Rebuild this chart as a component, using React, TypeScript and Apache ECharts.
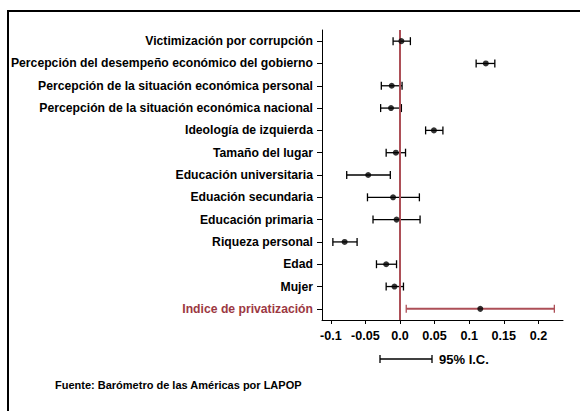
import React, { useEffect, useRef } from "react";
import * as echarts from "echarts";

const categories = [
  "Victimización por corrupción",
  "Percepción del desempeño económico del gobierno",
  "Percepción de la situación económica personal",
  "Percepción de la situación económica nacional",
  "Ideología de izquierda",
  "Tamaño del lugar",
  "Educación universitaria",
  "Eduación secundaria",
  "Educación primaria",
  "Riqueza personal",
  "Edad",
  "Mujer",
  "Indice de privatización",
];
const coef = [0.002, 0.124, -0.012, -0.013, 0.049, -0.006, -0.046, -0.010, -0.005, -0.080, -0.020, -0.008, 0.116];
const lower = [-0.010, 0.110, -0.027, -0.028, 0.037, -0.020, -0.077, -0.047, -0.039, -0.097, -0.034, -0.020, 0.009];
const upper = [0.015, 0.137, 0.003, 0.002, 0.062, 0.008, -0.014, 0.028, 0.029, -0.062, -0.005, 0.005, 0.223];
const xTicks = [-0.1, -0.05, 0, 0.05, 0.1, 0.15, 0.2];
const xTickLabels = ["-0.1", "-0.05", "0.0", "0.05", "0.1", "0.15", "0.2"];
const highlightIndex = 12;

const FONT = '"Liberation Sans", Arial, Helvetica, sans-serif';
const RED_LINE = "#ad4f57";
const RED_TEXT = "#9c3842";
const CAT_SIZE = 12.2;

export default function App() {
  const ref = useRef<HTMLDivElement>(null);
  useEffect(() => {
    if (!ref.current) return;
    const chart = echarts.init(ref.current, null, { renderer: "svg" });
    const errData = categories.map((_, i) => [lower[i], upper[i], i]);
    const ptData = categories.map((_, i) => [coef[i], i]);
    chart.setOption({
      animation: false,
      backgroundColor: "#fff",
      grid: { left: 322, top: 30, width: 241, height: 290 },
      xAxis: {
        type: "value",
        min: -0.1127,
        max: 0.2355,
        splitLine: { show: false },
        axisLine: { show: true, onZero: false, lineStyle: { color: "#000", width: 1 } },
        axisTick: { show: true, length: 4, lineStyle: { color: "#000" }, customValues: xTicks },
        axisLabel: {
          customValues: xTicks,
          margin: 9,
          fontFamily: FONT,
          fontWeight: "bold",
          fontSize: 12.6,
          color: "#000",
          formatter: (v: number) => {
            const k = xTicks.findIndex((t) => Math.abs(t - v) < 1e-9);
            return k >= 0 ? xTickLabels[k] : "";
          },
        },
      },
      yAxis: {
        type: "category",
        data: categories,
        inverse: true,
        axisLine: { show: true, onZero: false, lineStyle: { color: "#000", width: 1 } },
        axisTick: { show: true, length: 5, alignWithLabel: true, lineStyle: { color: "#000" } },
        axisLabel: {
          margin: 9,
          fontFamily: FONT,
          fontWeight: "bold",
          fontSize: CAT_SIZE,
          color: "#000",
          formatter: (v: string, i: number) => (i === highlightIndex ? `{r|${v}}` : `{b|${v}}`),
          rich: {
            b: { color: "#000", fontFamily: FONT, fontWeight: "bold", fontSize: CAT_SIZE },
            r: { color: RED_TEXT, fontFamily: FONT, fontWeight: "bold", fontSize: CAT_SIZE },
          },
        },
      },
      series: [
        {
          type: "custom",
          data: errData,
          encode: { x: [0, 1], y: 2 },
          renderItem: (params: any, api: any) => {
            const idx = api.value(2);
            const p1 = api.coord([api.value(0), idx]);
            const p2 = api.coord([api.value(1), idx]);
            const color = idx === highlightIndex ? RED_LINE : "#000";
            const h = 4;
            const st = { stroke: color, lineWidth: idx === highlightIndex ? 2 : 1.3 };
            return {
              type: "group",
              children: [
                { type: "line", shape: { x1: p1[0], y1: p1[1], x2: p2[0], y2: p2[1] }, style: st },
                { type: "line", shape: { x1: p1[0], y1: p1[1] - h, x2: p1[0], y2: p1[1] + h }, style: { stroke: color, lineWidth: 1.3 } },
                { type: "line", shape: { x1: p2[0], y1: p2[1] - h, x2: p2[0], y2: p2[1] + h }, style: { stroke: color, lineWidth: 1.3 } },
              ],
            };
          },
          z: 2,
        },
        {
          type: "scatter",
          data: ptData,
          symbol: "circle",
          symbolSize: 6,
          itemStyle: { color: "#000" },
          z: 4,
          markLine: {
            silent: true,
            symbol: "none",
            label: { show: false },
            lineStyle: { color: RED_LINE, width: 2, type: "solid" },
            data: [{ xAxis: 0 }],
            z: 3,
          },
        },
      ],
      graphic: [
        { type: "line", shape: { x1: 7, y1: 11, x2: 580, y2: 11 }, style: { stroke: "#000", lineWidth: 2 } },
        { type: "line", shape: { x1: 8, y1: 10, x2: 8, y2: 411 }, style: { stroke: "#000", lineWidth: 2 } },
        { type: "line", shape: { x1: 380, y1: 359, x2: 432, y2: 359 }, style: { stroke: "#000", lineWidth: 1.3 } },
        { type: "line", shape: { x1: 380, y1: 355, x2: 380, y2: 363 }, style: { stroke: "#000", lineWidth: 1.3 } },
        { type: "line", shape: { x1: 432, y1: 355, x2: 432, y2: 363 }, style: { stroke: "#000", lineWidth: 1.3 } },
        {
          type: "text",
          x: 439,
          y: 359,
          style: { text: "95% I.C.", fontFamily: FONT, fontWeight: "bold", fontSize: 13, fill: "#000", verticalAlign: "middle" },
        },
        {
          type: "text",
          x: 55,
          y: 385,
          style: {
            text: "Fuente: Barómetro de las Américas por LAPOP",
            fontFamily: FONT,
            fontWeight: "bold",
            fontSize: 11,
            fill: "#000",
            verticalAlign: "middle",
          },
        },
      ],
    });
    return () => chart.dispose();
  }, []);
  return <div ref={ref} style={{ width: 580, height: 411, position: "absolute", left: 0, top: 0 }} />;
}
